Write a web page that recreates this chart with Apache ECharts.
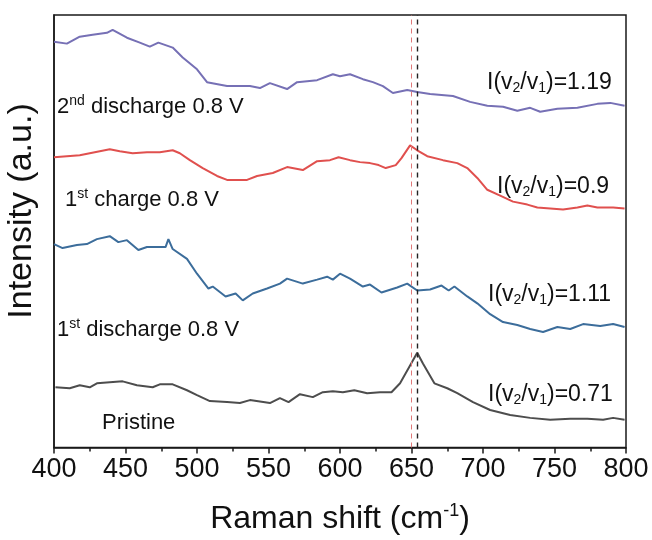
<!DOCTYPE html>
<html>
<head>
<meta charset="utf-8">
<script src="https://cdn.jsdelivr.net/npm/echarts@6/dist/echarts.min.js"></script>
<style>
  html, body { margin: 0; padding: 0; background: #fff; }
  #chart { width: 652px; height: 540px; }
</style>
</head>
<body>
<div id="chart"></div>
<script>
// Raman shift (cm-1) and intensity (a.u., offset-stacked)
const xTicks = [400, 450, 500, 550, 600, 650, 700, 750, 800];

const disch2X = [400,409,418,427,437,441,451,460,467,473,483,490,500,507,521,537,544,551,563,570,584,595,600,607,616,623,630,637,647,654,663,679,691,703,714,724,733,740,752,766,780,789,799];
const disch2Y = [411,409,416,418,420,423,415,410,406,410,405,395,383,370,366,366,364,369,363,370,372,378,376,378,373,370,366,359,362,360,358,356,350,346,345,341,344,340,343,344,348,349,346];

const charge1X = [400,409,418,425,432,439,446,455,465,474,483,488,495,504,514,521,535,542,553,563,574,584,593,599,607,614,621,627,632,639,643,649,654,661,672,682,689,696,703,712,721,731,738,747,756,766,773,780,791,799];
const charge1Y = [294,295,296,298,300,302,300,298,299,299,301,298,291,283,275,271,271,275,278,284,281,290,291,294,291,289,288,286,283,286,293,306,301,295,291,288,283,273,261,255,249,246,243,242,241,243,245,243,243,242];

const disch1X = [400,406,416,423,430,439,445,451,459,465,472,478,480,483,493,500,508,511,520,527,532,539,549,558,563,574,584,591,595,600,607,616,621,629,640,647,654,663,671,676,680,689,696,705,714,724,733,742,752,761,770,782,791,799];
const disch1Y = [206,202,205,206,211,214,208,210,200,203,203,203,211,201,191,176,161,163,153,156,149,156,161,166,171,166,170,173,170,176,171,163,165,157,162,166,159,160,164,159,163,153,146,135,127,124,120,117,122,120,125,123,125,122];

const pristX = [401,411,418,425,430,439,448,458,469,474,483,493,500,509,521,530,537,551,558,564,572,581,588,595,602,610,619,628,636,642,649,654,658,666,675,682,693,705,719,733,747,761,773,784,791,799];
const pristY = [61,60,63,61,65,66,67,63,61,64,64,58,53,47,46,45,48,45,50,46,54,51,56,57,56,58,55,56,56,65,83,96,85,65,60,55,46,38,33,30,28,29,29,28,30,28];

const seriesNames = ['2nd discharge 0.8 V', '1st charge 0.8 V', '1st discharge 0.8 V', 'Pristine'];
const seriesColors = ['#7670B5', '#E0504E', '#3C6D9B', '#4D4D4D'];
const ratioTexts = ['1.19', '0.9', '1.11', '0.71'];
const refLines = [650, 654];

function zip(xs, ys) { return xs.map((x, i) => [x, ys[i]]); }

const FONT = '"Liberation Sans", Arial, sans-serif';
const chart = echarts.init(document.getElementById('chart'), null, { renderer: 'canvas' });

const richTxt = {
  sup: { fontSize: 14, fontFamily: FONT, fill: '#111', padding: [0, 0, 11, 0] },
  sub: { fontSize: 14, fontFamily: FONT, fill: '#111', padding: [10, 0, 0, 0] }
};

function label(x, y, text, size) {
  return {
    type: 'text', x: x, y: y, z: 100,
    style: {
      text: text, fill: '#111', font: (size || 22) + 'px ' + FONT,
      align: 'left', verticalAlign: 'middle', rich: richTxt
    }
  };
}
function ratio(x, y, v) {
  return label(x, y, 'I(v{sub|2}/v{sub|1})=' + v, 23);
}

const curves = [zip(disch2X, disch2Y), zip(charge1X, charge1Y), zip(disch1X, disch1Y), zip(pristX, pristY)];

const option = {
  animation: false,
  backgroundColor: '#fff',
  grid: { left: 54, right: 26, top: 15, bottom: 87, show: true, borderColor: '#1a1a1a', borderWidth: 1.5, backgroundColor: 'transparent' },
  xAxis: {
    type: 'value', min: xTicks[0], max: xTicks[xTicks.length - 1], interval: 50,
    name: 'Raman shift (cm{sup|-1})', nameLocation: 'middle', nameGap: 55,
    nameTextStyle: { fontSize: 32, fontFamily: FONT, color: '#111',
      rich: { sup: { fontSize: 18, fontFamily: FONT, color: '#111', padding: [0, 0, 15, 0] } } },
    axisLine: { show: true, lineStyle: { color: '#1a1a1a', width: 1.5 } },
    axisTick: { show: true, length: 6, inside: false, lineStyle: { color: '#1a1a1a', width: 1.5 } },
    minorTick: { show: true, splitNumber: 2, length: 4, lineStyle: { color: '#1a1a1a', width: 1.5 } },
    axisLabel: { fontSize: 27, fontFamily: FONT, color: '#111', margin: 9 },
    splitLine: { show: false }
  },
  yAxis: {
    type: 'value', min: 0, max: 438,
    axisLine: { show: true, lineStyle: { color: '#1a1a1a', width: 1.5 } },
    axisTick: { show: false }, axisLabel: { show: false }, splitLine: { show: false }
  },
  series: curves.map((d, i) => ({
    name: seriesNames[i], type: 'line', data: d, showSymbol: false, symbol: 'none',
    lineStyle: { color: seriesColors[i], width: 2 }, itemStyle: { color: seriesColors[i] },
    z: 2,
    markLine: i === 0 ? {
      silent: true, symbol: 'none', label: { show: false },
      data: [
        { xAxis: refLines[0], lineStyle: { color: '#E07878', width: 1, type: [5, 4] } },
        { xAxis: refLines[1], lineStyle: { color: '#222', width: 1.4, type: [5, 4] } }
      ]
    } : undefined
  })),
  graphic: [
    label(57, 107, '2{sup|nd} discharge 0.8 V'),
    label(65, 200, '1{sup|st} charge 0.8 V'),
    label(57, 330, '1{sup|st} discharge 0.8 V'),
    label(102, 423, 'Pristine'),
    ratio(487, 83, ratioTexts[0]),
    ratio(497, 187, ratioTexts[1]),
    ratio(488, 295, ratioTexts[2]),
    ratio(488, 395, ratioTexts[3]),
    {
      type: 'text', x: 22, y: 211, rotation: Math.PI / 2,
      style: { text: 'Intensity (a.u.)', fill: '#111', font: '34px ' + FONT, align: 'center', verticalAlign: 'middle' }
    }
  ]
};
chart.setOption(option);
</script>
</body>
</html>
